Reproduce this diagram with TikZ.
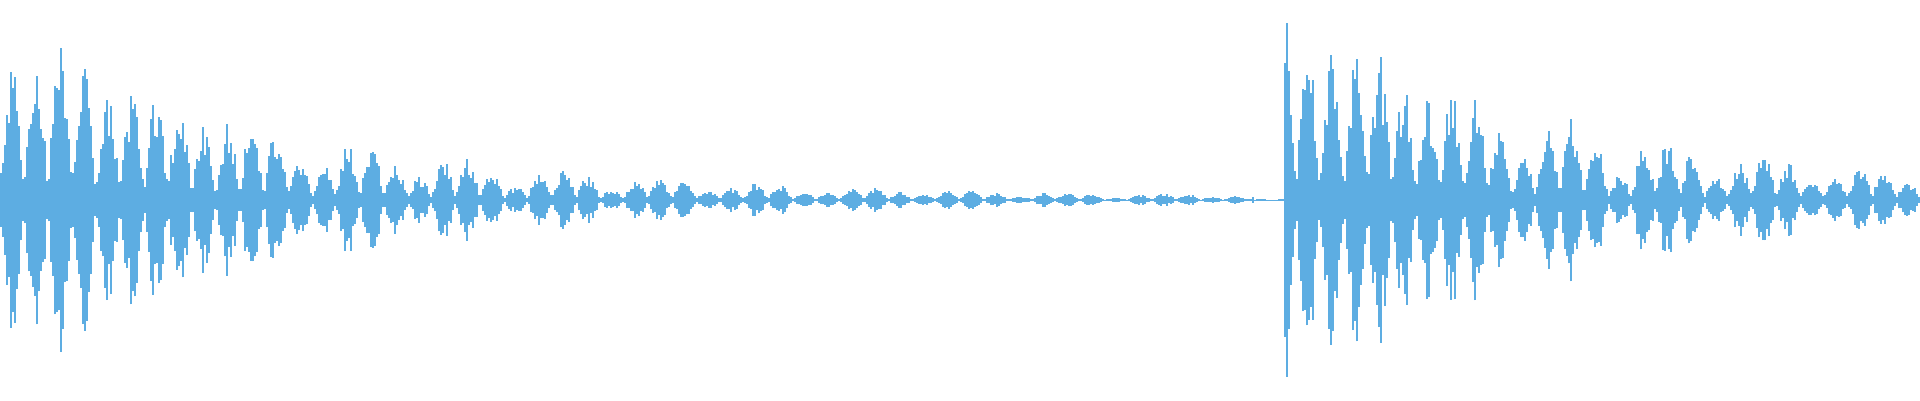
\documentclass[tikz,border=0pt]{standalone}
\usetikzlibrary{calc}
\definecolor{wavecol}{RGB}{93,173,226}
\tikzset{wave/.style={draw=wavecol, line width=2.1pt}}

\begin{document}
\begin{tikzpicture}[x=1pt, y=1pt]
\useasboundingbox (0,0) rectangle (1920,400);
\pgfmathsetseed{7}

% centre line
\draw[wavecol, line width=1pt] (0,200) -- (1920,200);

% samples
\foreach \x in {1,3,...,1919}{
  \pgfmathsetmacro\e{\x<1255 ? 185*exp(-\x/300)+3 : (\x<1285 ? 1 : 190*exp(-abs(\x-1290)/300)+8)}
  \pgfmathsetmacro\m{(\x<250 || (\x>1285 && \x<1440)) ? 0.75 : 0.35}
  \pgfmathsetmacro\b{\m+(1-\m)*abs(sin(mod(int(\x/24)*137,360)))}
  \pgfmathsetmacro\a{\e*\b*(0.55+0.45*rnd)*(0.08+0.92*abs(sin(mod(\x,24)*7.5)))}
  \draw[wave] (\x,200-\a) -- (\x,200+\a);
}
\end{tikzpicture}
\end{document}
